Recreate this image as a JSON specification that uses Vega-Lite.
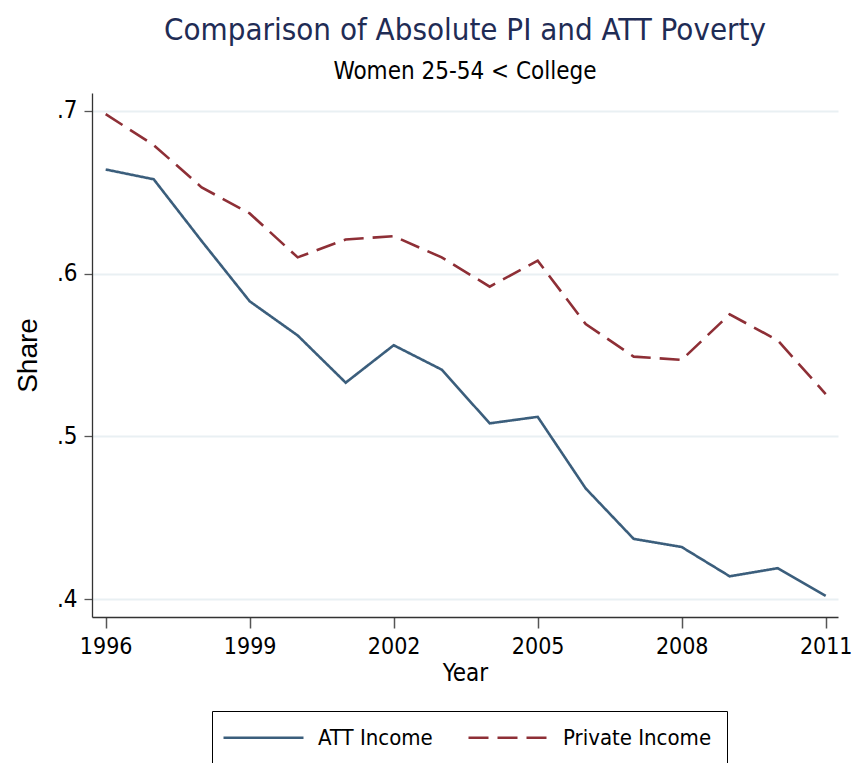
{
  "$schema": "https://vega.github.io/schema/vega-lite/v6.json",
  "autosize": {"type": "none"},
  "padding": {"left": 92, "top": 93, "right": 27, "bottom": 146},
  "width": 746,
  "height": 524,
  "background": "white",
  "title": {
    "text": "Comparison of Absolute PI and ATT Poverty",
    "subtitle": "Women 25-54 < College",
    "anchor": "middle",
    "font": "DejaVu Sans Condensed",
    "fontSize": 31,
    "fontWeight": "normal",
    "color": "#1f2c55",
    "subtitleFont": "DejaVu Sans Condensed",
    "subtitleFontSize": 24,
    "subtitleColor": "#000000",
    "subtitlePadding": 13,
    "offset": 8
  },
  "data": {
    "values": [
      {"year": 1996, "series": "ATT Income", "share": 0.664},
      {"year": 1997, "series": "ATT Income", "share": 0.658},
      {"year": 1998, "series": "ATT Income", "share": 0.620},
      {"year": 1999, "series": "ATT Income", "share": 0.583},
      {"year": 2000, "series": "ATT Income", "share": 0.562},
      {"year": 2001, "series": "ATT Income", "share": 0.533},
      {"year": 2002, "series": "ATT Income", "share": 0.556},
      {"year": 2003, "series": "ATT Income", "share": 0.541},
      {"year": 2004, "series": "ATT Income", "share": 0.508},
      {"year": 2005, "series": "ATT Income", "share": 0.512},
      {"year": 2006, "series": "ATT Income", "share": 0.468},
      {"year": 2007, "series": "ATT Income", "share": 0.437},
      {"year": 2008, "series": "ATT Income", "share": 0.432},
      {"year": 2009, "series": "ATT Income", "share": 0.414},
      {"year": 2010, "series": "ATT Income", "share": 0.419},
      {"year": 2011, "series": "ATT Income", "share": 0.402},
      {"year": 1996, "series": "Private Income", "share": 0.698},
      {"year": 1997, "series": "Private Income", "share": 0.679},
      {"year": 1998, "series": "Private Income", "share": 0.653},
      {"year": 1999, "series": "Private Income", "share": 0.637},
      {"year": 2000, "series": "Private Income", "share": 0.610},
      {"year": 2001, "series": "Private Income", "share": 0.621},
      {"year": 2002, "series": "Private Income", "share": 0.623},
      {"year": 2003, "series": "Private Income", "share": 0.610},
      {"year": 2004, "series": "Private Income", "share": 0.592},
      {"year": 2005, "series": "Private Income", "share": 0.608},
      {"year": 2006, "series": "Private Income", "share": 0.569},
      {"year": 2007, "series": "Private Income", "share": 0.549},
      {"year": 2008, "series": "Private Income", "share": 0.547},
      {"year": 2009, "series": "Private Income", "share": 0.575},
      {"year": 2010, "series": "Private Income", "share": 0.559},
      {"year": 2011, "series": "Private Income", "share": 0.526}
    ]
  },
  "mark": {"type": "line", "strokeWidth": 2.6, "clip": true},
  "encoding": {
    "x": {
      "field": "year",
      "type": "quantitative",
      "scale": {"domain": [1995.715, 2011.256], "nice": false, "zero": false},
      "axis": {
        "title": "Year",
        "values": [1996, 1999, 2002, 2005, 2008, 2011],
        "format": "d",
        "grid": false,
        "tickSize": 11,
        "tickColor": "#555555",
        "tickWidth": 1.5,
        "domainColor": "#333333",
        "domainWidth": 1.3,
        "labelFont": "DejaVu Sans Condensed",
        "labelFontSize": 23,
        "labelColor": "#000000",
        "labelPadding": 7,
        "labelFlush": false,
        "labelOverlap": false,
        "titleFont": "DejaVu Sans Condensed",
        "titleFontSize": 24,
        "titleFontWeight": "normal",
        "titleColor": "#000000",
        "titlePadding": 3
      }
    },
    "y": {
      "field": "share",
      "type": "quantitative",
      "scale": {"domain": [0.389, 0.711], "nice": false, "zero": false},
      "axis": {
        "title": "Share",
        "values": [0.4, 0.5, 0.6, 0.7],
        "labelExpr": "replace(format(datum.value, '.1f'), '0.', '.')",
        "grid": true,
        "gridColor": "#e9f0f3",
        "gridWidth": 2,
        "tickSize": 8,
        "tickColor": "#555555",
        "tickWidth": 1.3,
        "domainColor": "#333333",
        "domainWidth": 1.3,
        "labelFont": "DejaVu Sans Condensed",
        "labelFontSize": 24,
        "labelColor": "#000000",
        "labelPadding": 7,
        "labelFlush": false,
        "titleFont": "Liberation Sans",
        "titleFontSize": 28,
        "titleFontWeight": "normal",
        "titleColor": "#000000",
        "titlePadding": 14
      }
    },
    "color": {
      "field": "series",
      "type": "nominal",
      "scale": {"domain": ["ATT Income", "Private Income"], "range": ["#3b5e7c", "#8e2f36"]},
      "legend": {
        "title": null,
        "orient": "none",
        "legendX": 120,
        "legendY": 618,
        "direction": "horizontal",
        "columns": 2,
        "strokeColor": "#000000",
        "padding": 15,
        "symbolType": "M-4,0H4",
        "symbolSize": 400,
        "symbolOffset": 25,
        "symbolStrokeWidth": 2.6,
        "labelFont": "DejaVu Sans Condensed",
        "labelFontSize": 22,
        "labelColor": "#000000",
        "labelOffset": 43,
        "columnPadding": 30
      }
    },
    "strokeDash": {
      "field": "series",
      "type": "nominal",
      "scale": {"domain": ["ATT Income", "Private Income"], "range": [[1, 0], [20, 9]]},
      "legend": {
        "title": null,
        "orient": "none",
        "legendX": 120,
        "legendY": 618,
        "direction": "horizontal",
        "columns": 2,
        "strokeColor": "#000000",
        "padding": 15,
        "symbolType": "M-4,0H4",
        "symbolSize": 400,
        "symbolOffset": 25,
        "symbolStrokeWidth": 2.6,
        "labelFont": "DejaVu Sans Condensed",
        "labelFontSize": 22,
        "labelColor": "#000000",
        "labelOffset": 43,
        "columnPadding": 30
      }
    }
  },
  "config": {"view": {"stroke": null}}
}
